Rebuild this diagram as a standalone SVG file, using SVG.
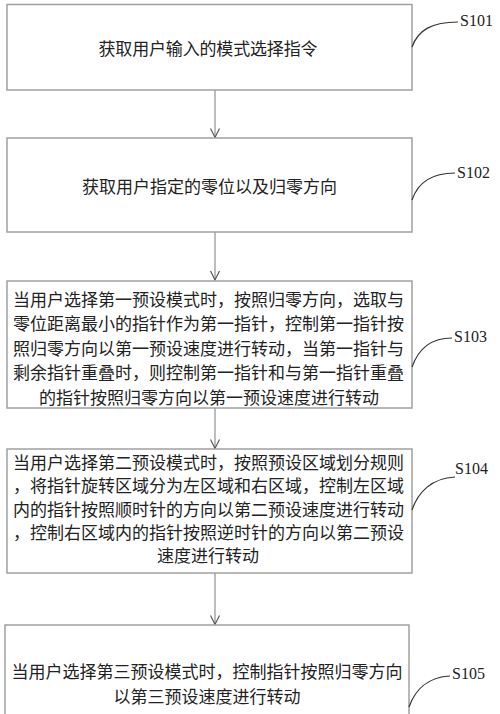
<svg xmlns="http://www.w3.org/2000/svg" width="500" height="714" viewBox="0 0 500 714">
<defs>
<style>
.box{fill:#fff;stroke:#a0a0a0;stroke-width:1.5}
.t{font-family:"Noto Sans CJK SC","Noto Sans",sans-serif;font-size:17px;fill:#222;dominant-baseline:central}
.lbl{font-family:"Liberation Serif",serif;font-size:16px;fill:#222;dominant-baseline:central}
.cur{fill:none;stroke:#333;stroke-width:1.2}
.con{fill:none;stroke:#909090;stroke-width:1.2}
</style>
<marker id="ah" markerWidth="12" markerHeight="10" refX="10" refY="5" orient="auto" markerUnits="userSpaceOnUse">
<path d="M1,0.5 L10,5 L1,9.5" fill="none" stroke="#555" stroke-width="1.2"/>
</marker>
</defs>
<rect width="500" height="714" fill="#fff"/>
<g id="connectors">
<line class="con" x1="215" y1="90" x2="215" y2="137.5" marker-end="url(#ah)"/>
<line class="con" x1="215" y1="232" x2="215" y2="280" marker-end="url(#ah)"/>
<line class="con" x1="215" y1="408" x2="215" y2="448.5" marker-end="url(#ah)"/>
<line class="con" x1="215" y1="573" x2="215" y2="624.5" marker-end="url(#ah)"/>
</g>
<g id="S101">
<rect class="box" x="7" y="4.5" width="405" height="85.5"/>
<text class="t" x="208" y="47" text-anchor="middle" textLength="219" lengthAdjust="spacing">获取用户输入的模式选择指令</text>
<path class="cur" d="M412,47 C418,30 432,22 458,22"/>
<text class="lbl" x="460" y="20">S101</text>
</g>
<g id="S102">
<rect class="box" x="7" y="138" width="405" height="94"/>
<text class="t" x="209.5" y="185" text-anchor="middle">获取用户指定的零位以及归零方向</text>
<path class="cur" d="M412,200 C418,182 432,173 455,173"/>
<text class="lbl" x="457" y="172">S102</text>
</g>
<g id="S103">
<rect class="box" x="7" y="281" width="405" height="127"/>
<text class="t" x="13" y="298">当用户选择第一预设模式时，按照归零方向，选取与</text>
<text class="t" x="13" y="322.5">零位距离最小的指针作为第一指针，控制第一指针按</text>
<text class="t" x="13" y="347">照归零方向以第一预设速度进行转动，当第一指针与</text>
<text class="t" x="13" y="371.5">剩余指针重叠时，则控制第一指针和与第一指针重叠</text>
<text class="t" x="209" y="396" text-anchor="middle">的指针按照归零方向以第一预设速度进行转动</text>
<path class="cur" d="M412,367 C418,350 430,338 452,338"/>
<text class="lbl" x="454" y="336">S103</text>
</g>
<g id="S104">
<rect class="box" x="7" y="449" width="405" height="124"/>
<text class="t" x="13" y="461.5">当用户选择第二预设模式时，按照预设区域划分规则</text>
<text class="t" x="13" y="484.8">，将指针旋转区域分为左区域和右区域，控制左区域</text>
<text class="t" x="13" y="508">内的指针按照顺时针的方向以第二预设速度进行转动</text>
<text class="t" x="13" y="531.2">，控制右区域内的指针按照逆时针的方向以第二预设</text>
<text class="t" x="208" y="554.5" text-anchor="middle">速度进行转动</text>
<path class="cur" d="M412,510 C418,492 432,478 455,477"/>
<text class="lbl" x="455" y="468">S104</text>
</g>
<g id="S105">
<rect class="box" x="5" y="625" width="404" height="100"/>
<text class="t" x="207" y="670" text-anchor="middle">当用户选择第三预设模式时，控制指针按照归零方向</text>
<text class="t" x="207" y="695" text-anchor="middle">以第三预设速度进行转动</text>
<path class="cur" d="M409,707 C415,690 428,677 450,676"/>
<text class="lbl" x="452" y="673">S105</text>
</g>
</svg>
